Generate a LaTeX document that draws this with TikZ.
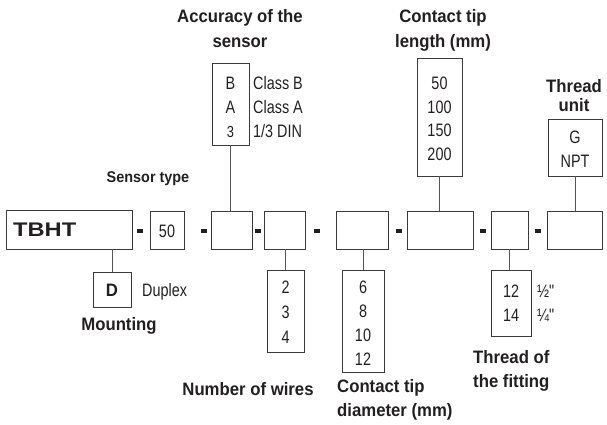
\documentclass[tikz,border=0pt]{standalone}
\usepackage{fontspec}
\setmainfont{Liberation Sans}
\newfontfamily\nfont[FakeStretch=0.8]{Liberation Sans}
\newfontfamily\bfont[FakeStretch=0.93]{Liberation Sans}
\newfontfamily\tfont[FakeStretch=1.2]{Liberation Sans}
\definecolor{ink}{HTML}{231F20}
\definecolor{boxc}{HTML}{3A3A3A}
\definecolor{linec}{HTML}{555555}
\tikzset{
  box/.style={draw=boxc, line width=0.8pt, inner sep=0pt, anchor=center},
  opt/.style={text=ink, inner sep=0pt, anchor=base, align=center,
    font=\nfont\fontsize{18}{24}\selectfont},
  side/.style={text=ink, inner sep=0pt, anchor=base west,
    font=\nfont\fontsize{18}{24}\selectfont},
  lab/.style={text=ink, inner sep=0pt, anchor=base, align=center,
    font=\bfont\bfseries\fontsize{18}{25}\selectfont},
  labl/.style={lab, anchor=base west, align=left},
  conn/.style={draw=linec, line width=0.8pt},
  dashmark/.style={fill=ink}
}
\begin{document}
\begin{tikzpicture}[x=1pt,y=-1pt]
\useasboundingbox (0,0) rectangle (607,425);
% main row boxes
\node[box, minimum width=126, minimum height=39] (tbht) at (69,229.5) {};
\node[box, minimum width=34, minimum height=38] (b50) at (167,230) {};
\node[box, minimum width=41, minimum height=38] (bacc) at (231.5,230) {};
\node[box, minimum width=41, minimum height=38] (bwir) at (284.5,230) {};
\node[box, minimum width=52, minimum height=38] (bdia) at (362,230) {};
\node[box, minimum width=66, minimum height=38] (blen) at (440,230) {};
\node[box, minimum width=37, minimum height=38] (bfit) at (509.5,230) {};
\node[box, minimum width=55, minimum height=38] (bthr) at (574.5,230) {};
% main row texts
\node[inner sep=0pt, anchor=base west, text=ink, font=\tfont\bfseries\fontsize{19.7}{24}\selectfont] (tbhtt) at (13,236) {TBHT};
\node[opt] (b50t) at (167,237.5) {50};
% dashes
\foreach \dx in {140,204,258,317,399,483,538}
  \fill[dashmark] (\dx-2.6,229.2) rectangle (\dx+2.6,232.8);
% option boxes
\node[box, minimum width=38, minimum height=35] (dopt) at (112,289.5) {};
\node[box, minimum width=37, minimum height=82] (acco) at (230.5,104) {};
\node[box, minimum width=37, minimum height=82] (wiro) at (285.5,311) {};
\node[box, minimum width=42, minimum height=102] (diao) at (363,321) {};
\node[box, minimum width=45, minimum height=118] (leno) at (439.5,117) {};
\node[box, minimum width=40, minimum height=66] (fito) at (511,303) {};
\node[box, minimum width=54, minimum height=57] (thro) at (575,147.5) {};
% connectors
\draw[conn] (dopt.north) -- (dopt.north |- tbht.south);
\draw[conn] (acco.south) -- (acco.south |- bacc.north);
\draw[conn] (wiro.north) -- (wiro.north |- bwir.south);
\draw[conn] (diao.north) -- (diao.north |- bdia.south);
\draw[conn] (leno.south) -- (leno.south |- blen.north);
\draw[conn] (bfit.south) -- (bfit.south |- fito.north);
\draw[conn] (thro.south) -- (thro.south |- bthr.north);
% option texts (anchor = baseline of the last line)
\node[opt] (accot) at (230.5,137.5) {B\\A\\{\fontsize{16}{24}\selectfont 3}};
\node[side] (cb) at (253,89.5) {Class B};
\node[side] (ca) at (253,113.5) {Class A};
\node[side] (c3) at (253,137.5) {1/3 DIN};
\node[opt, font=\nfont\fontsize{18}{23.6}\selectfont] (lenot) at (439.5,160.3) {50\\100\\150\\200};
\node[opt] (throt) at (575,167.5) {G\\NPT};
\node[opt, font=\nfont\fontsize{18}{25}\selectfont] (wirot) at (285.5,343.5) {2\\3\\4};
\node[opt] (diaot) at (363,365.5) {6\\8\\10\\12};
\node[opt] (fitot) at (511,321.5) {12\\14};
\node[side] (half) at (537,297.5) {½"};
\node[side] (quarter) at (537,321.5) {¼"};
\node[lab] (doptt) at (112,296.5) {D};
\node[side] (duplex) at (142,296.5) {Duplex};
% labels
\node[lab] (lacc) at (240,48) {Accuracy of the\\sensor};
\node[lab] (llen) at (443,48) {Contact tip\\length (mm)};
\node[lab, font=\bfont\bfseries\fontsize{18}{18}\selectfont] (lthr) at (574,111) {Thread\\unit};
\node[lab, font=\bfont\bfseries\fontsize{15.5}{20}\selectfont] (lsen) at (148,182) {Sensor type};
\node[lab] (lmnt) at (119,330) {Mounting};
\node[lab] (lwir) at (248,395.5) {Number of wires};
\node[labl, font=\bfont\bfseries\fontsize{18}{24}\selectfont] (ldia) at (337,416) {Contact tip\\diameter (mm)};
\node[labl, font=\bfont\bfseries\fontsize{18}{24}\selectfont] (lfit) at (473,387) {Thread of\\the fitting};
\end{tikzpicture}
\end{document}
